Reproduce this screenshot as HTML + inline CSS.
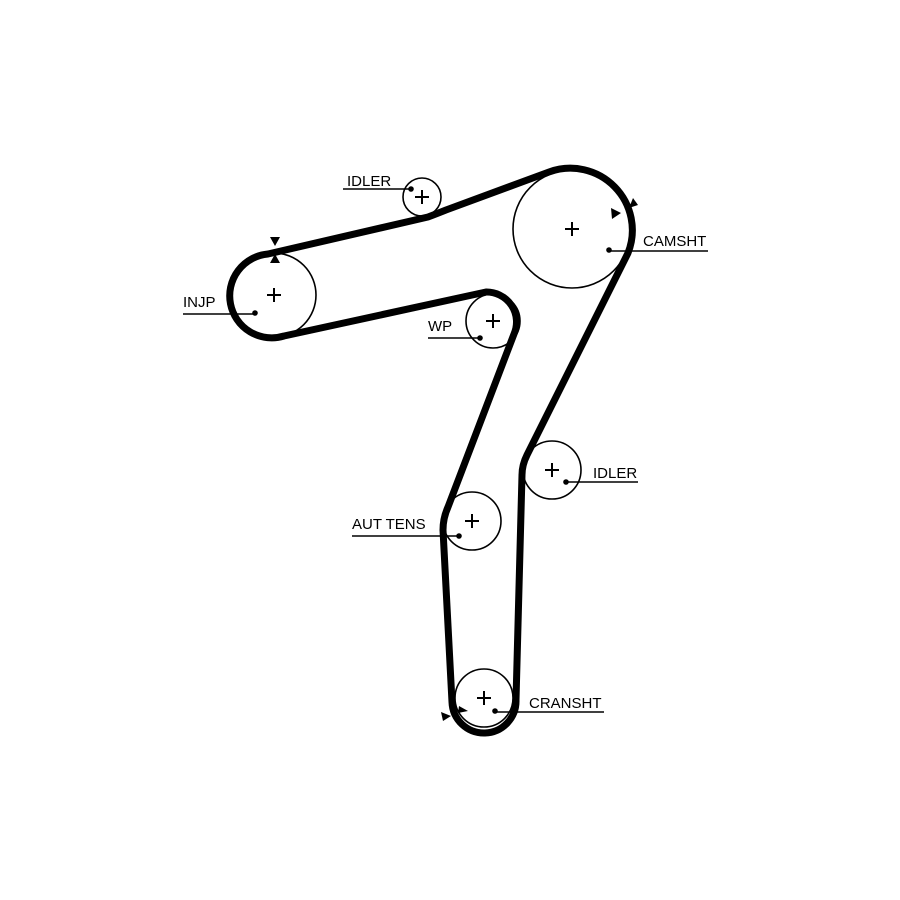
<!DOCTYPE html>
<html><head><meta charset="utf-8"><style>html,body{margin:0;padding:0;background:#fff}svg{display:block}</style></head>
<body>
<svg width="900" height="900" viewBox="0 0 900 900" xmlns="http://www.w3.org/2000/svg">
<rect width="900" height="900" fill="#fff"/>
<g fill="none" stroke="#000" stroke-width="1.6">
<circle cx="422" cy="197" r="19"/>
<circle cx="572" cy="229" r="59"/>
<circle cx="274" cy="295" r="42"/>
<circle cx="493" cy="321" r="27"/>
<circle cx="552" cy="470" r="29"/>
<circle cx="472" cy="521" r="29"/>
<circle cx="484" cy="698" r="29"/>
</g>
<path d="M284 336 A42 42 0 1 1 268 254 L428 217 Q436 214 446 210 L549 172 A62 62 0 0 1 628 253 L527 455 Q522 465 522 475 L516 700 A32 32 0 0 1 452 702 L443 530 Q443 518 448 507 L514 334 A30 30 0 0 0 486 292 Z" fill="none" stroke="#000" stroke-width="7" stroke-linejoin="round"/>
<g stroke="#000" stroke-width="2">
<path d="M422 190v14M415 197h14"/><path d="M572 222v14M565 229h14"/><path d="M274 288v14M267 295h14"/>
<path d="M493 314v14M486 321h14"/><path d="M552 463v14M545 470h14"/><path d="M472 514v14M465 521h14"/><path d="M484 691v14M477 698h14"/>
</g>
<g stroke="#000" stroke-width="1.4">
<path d="M343 189H411M609 251H708M183 314H255M428 338H480M566 482H638M352 536H459M495 712H604"/>
</g>
<g fill="#000">
<circle cx="411" cy="189" r="2.8"/><circle cx="609" cy="250" r="2.8"/><circle cx="255" cy="313" r="2.8"/>
<circle cx="480" cy="338" r="2.8"/><circle cx="566" cy="482" r="2.8"/><circle cx="459" cy="536" r="2.8"/><circle cx="495" cy="711" r="2.8"/>
<polygon points="270,237 280,237 275,246"/><polygon points="270,263 280,263 275,254"/>
<polygon points="611,208 621,213 612,219"/><polygon points="629,208 638,205 633,198"/>
<polygon points="441,712 451,716 443,721"/><polygon points="459,706 468,711 458,713"/>
</g>
<g font-family="Liberation Sans, sans-serif" font-size="15" fill="#000">
<text x="347" y="186">IDLER</text>
<text x="643" y="246">CAMSHT</text>
<text x="183" y="307">INJP</text>
<text x="428" y="331">WP</text>
<text x="593" y="478">IDLER</text>
<text x="352" y="529">AUT TENS</text>
<text x="529" y="708">CRANSHT</text>
</g>
</svg>
</body></html>
